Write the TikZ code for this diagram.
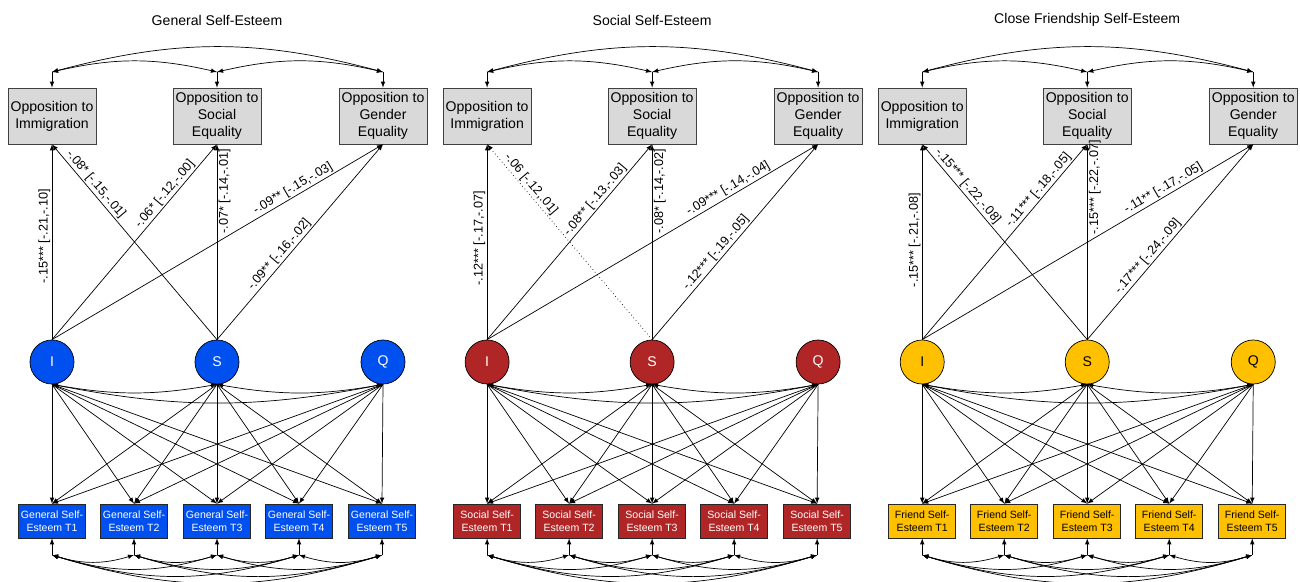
\documentclass[tikz,border=0pt]{standalone}
\usepackage{fontspec}
\setmainfont{Liberation Sans}
\usetikzlibrary{arrows.meta}
\definecolor{seblue}{RGB}{0,80,239}
\definecolor{sered}{RGB}{176,38,38}
\definecolor{seyellow}{RGB}{255,192,0}
\definecolor{boxgray}{RGB}{217,217,217}
\tikzset{
  outcome/.style={draw=black!75, fill=boxgray, minimum width=2.2cm, minimum height=1.4cm,
    align=center, inner sep=1pt, font=\fontsize{10}{12}\selectfont},
  wavebox/.style={draw=black!85, minimum width=1.675cm, minimum height=0.85cm,
    align=center, inner sep=1pt, font=\fontsize{7.5}{9}\selectfont},
  growth/.style={circle, draw, minimum size=1.1cm, inner sep=0pt, font=\fontsize{10}{12}\selectfont},
  coef/.style={sloped, inner sep=1pt, font=\fontsize{9}{10}\selectfont},
}

\begin{document}
\begin{tikzpicture}[x=0.025cm, y=-0.025cm, line width=0.5pt, >=latex]
\useasboundingbox (0,0) rectangle (1300,582);

\foreach \k/\fillc/\ink/\title/\kind in {0/seblue/white/General Self-Esteem/General,
    1/sered/white/Social Self-Esteem/Social, 2/seyellow/black/Close Friendship Self-Esteem/Friend} {
  \begin{scope}[xshift=\k*10.875cm]
    \node (title\k) at (217,20) {\title};
    % outcomes
    \node[outcome] (imm\k) at (52,116) {Opposition to\\Immigration};
    \node[outcome] (soc\k) at (217,116) {Opposition to\\Social\\Equality};
    \node[outcome] (gen\k) at (383,116) {Opposition to\\Gender\\Equality};
    \coordinate (cimm\k) at (52,72);
    \coordinate (csoc\k) at (217,72);
    \coordinate (cgen\k) at (383,72);
    \draw[->] (cimm\k) -- (imm\k);
    \draw[->] (csoc\k) -- (soc\k);
    \draw[->] (cgen\k) -- (gen\k);
    \draw[<->] (cimm\k) to[bend left=13] (csoc\k);
    \draw[<->] (csoc\k) to[bend left=13] (cgen\k);
    \draw[<->] (cimm\k) to[bend left=15] (cgen\k);
    % growth factors
    \node[growth, fill=\fillc, text=\ink] (I\k) at (52,362) {I};
    \node[growth, fill=\fillc, text=\ink] (S\k) at (217,362) {S};
    \node[growth, fill=\fillc, text=\ink] (Q\k) at (383,362) {Q};
    \draw[<->] (I\k.south) to[bend right=10] (S\k.south);
    \draw[<->] (S\k.south) to[bend right=10] (Q\k.south);
    \draw[<->] (I\k.south) to[bend right=11] (Q\k.south);
    % measurement waves
    \foreach \j/\x in {1/52, 2/134, 3/217, 4/299, 5/382} {
      \node[wavebox, fill=\fillc, text=\ink] (t\k\j) at (\x,521) {\kind{} Self-\\Esteem T\j};
      \coordinate (ct\k\j) at (\x,555);
      \draw[->] (ct\k\j) -- (t\k\j);
    }
    \foreach \f in {I,S,Q}
      \foreach \j in {1,...,5}
        \draw[->] (\f\k.south) -- (t\k\j.north);
    \foreach \p/\q in {1/2, 1/3, 1/4, 1/5, 2/3, 2/4, 2/5, 3/4, 3/5, 4/5}
      \draw[<->] (ct\k\p) to[bend right=17] (ct\k\q);
  \end{scope}
}

% general self-esteem
\draw[->] (I0.north) -- (imm0.south) node[coef, pos=0.53, above] {-.15*** [-.21,-.10]};
\draw[->] (S0.north) -- (imm0.south) node[coef, pos=0.77, above] {-.08* [-.15,-.01]};
\draw[->] (I0.north) -- (soc0.south) node[coef, pos=0.72, above] {-.06* [-.12,-.00]};
\draw[->] (S0.north) -- (soc0.south) node[coef, pos=0.76, below] {-.07* [-.14,-.01]};
\draw[->] (I0.north) -- (gen0.south) node[coef, pos=0.74, above] {-.09** [-.15,-.03]};
\draw[->] (S0.north) -- (gen0.south) node[coef, pos=0.41, above] {-.09** [-.16,-.02]};
% social self-esteem
\draw[->] (I1.north) -- (imm1.south) node[coef, pos=0.52, above] {-.12*** [-.17,-.07]};
\draw[->, dotted] (S1.north) -- (imm1.south) node[coef, pos=0.77, above] {-.06 [-.12,.01]};
\draw[->] (I1.north) -- (soc1.south) node[coef, pos=0.69, above] {-.08** [-.13,-.03]};
\draw[->] (S1.north) -- (soc1.south) node[coef, pos=0.76, below] {-.08* [-.14,-.02]};
\draw[->] (I1.north) -- (gen1.south) node[coef, pos=0.74, above] {-.09*** [-.14,-.04]};
\draw[->] (S1.north) -- (gen1.south) node[coef, pos=0.42, above] {-.12*** [-.19,-.05]};
% close friendship self-esteem
\draw[->] (I2.north) -- (imm2.south) node[coef, pos=0.51, above] {-.15*** [-.21,-.08]};
\draw[->] (S2.north) -- (imm2.south) node[coef, pos=0.76, above] {-.15*** [-.22,-.08]};
\draw[->] (I2.north) -- (soc2.south) node[coef, pos=0.74, above] {-.11*** [-.18,-.05]};
\draw[->] (S2.north) -- (soc2.south) node[coef, pos=0.78, below] {-.15*** [-.22,-.07]};
\draw[->] (I2.north) -- (gen2.south) node[coef, pos=0.74, above] {-.11** [-.17,-.05]};
\draw[->] (S2.north) -- (gen2.south) node[coef, pos=0.40, above] {-.17*** [-.24,-.09]};
\end{tikzpicture}
\end{document}
